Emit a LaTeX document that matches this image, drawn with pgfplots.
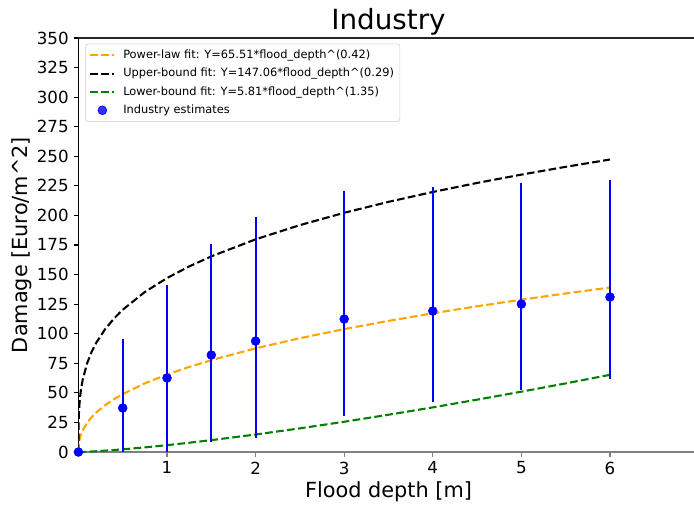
\documentclass[border=0pt]{standalone}
\usepackage{pgfplots}
\pgfplotsset{compat=1.18}
\usepackage{fontspec}
\setmainfont{DejaVu Sans}
\definecolor{mplorange}{HTML}{FFA500}
\definecolor{mplgreen}{HTML}{008000}
\definecolor{mplblue}{HTML}{0000FF}
\pgfplotsset{
  legline/.style={legend image code/.code={\draw[##1] (0pt,0pt) -- (17.3pt,0pt);}},
  legdot/.style={legend image code/.code={\draw[##1] plot coordinates {(9pt,0pt)};}},
}
\begin{document}
\begin{tikzpicture}
\begin{axis}[
  name=ax,
  at={(0pt,0pt)}, anchor=south west,
  scale only axis,
  width=446.5pt, height=298.08pt,
  xmin=0, xmax=7, ymin=0, ymax=350,
  xtick={1,2,3,4,5,6},
  ytick={0,25,...,350},
  axis x line=bottom, axis y line=left,
  axis line style={-},
  x axis line style={draw=gray, line width=1.1pt},
  y axis line style={draw=black, line width=0.8pt},
  tick align=outside,
  major tick length=3.5pt,
  xtick style={draw=gray, line width=0.8pt},
  ytick style={draw=black, line width=0.8pt},
  /pgf/number format/assume math mode=true,
  tick label style={font=\fontsize{12}{14.4}\selectfont},
  every axis title shift=0pt,
  title={Industry},
  title style={font=\fontsize{20}{24}\selectfont, at={(axis description cs:0.5,1)}, anchor=base, yshift=6pt, inner sep=0pt},
  xlabel={Flood depth [m]},
  xlabel style={font=\fontsize{15}{18}\selectfont, at={(axis description cs:0.5,-0.111)}, anchor=base},
  ylabel={Damage [Euro/m\textasciicircum 2]},
  every axis y label/.style={font=\fontsize{15}{18}\selectfont, at={(axis description cs:-0.0909,0.5)}, anchor=center, rotate=90},
  legend style={at={(axis description cs:0,1)}, anchor=north west, xshift=5pt, yshift=-4pt,
    font=\fontsize{8.2}{10}\selectfont, draw=black!20, rounded corners=2pt, fill=white, fill opacity=0.8, text opacity=1,
    row sep=1.5pt, inner sep=2.3pt,
    /tikz/every odd column/.append style={column sep=4pt},
    /tikz/every even column/.append style={column sep=0pt}},
  legend cell align=left,
]
\addplot[mplorange, line width=1.5pt, dash pattern=on 5.55pt off 2.4pt, legline] coordinates {
(0,0) (0.002,4.81) (0.005,7.08) (0.01,9.47) (0.02,12.67) (0.03,15.02) (0.05,18.62) (0.1,24.91) (0.15,29.53) (0.2,33.33) (0.3,39.51) (0.4,44.59) (0.5,48.96) (0.75,58.06) (1,65.51) (1.25,71.94) (1.5,77.67) (2,87.65) (2.5,96.25) (3,103.92) (3.5,110.88) (4,117.26) (4.5,123.21) (5,128.78) (5.5,134.05) (6,139.05)};
\addlegendentry{Power-law fit: Y=65.51*flood\_depth\textasciicircum(0.42)}
\addplot[black, line width=1.5pt, dash pattern=on 5.55pt off 2.4pt, legline] coordinates {
(0,0) (0.002,24.25) (0.005,31.63) (0.01,38.68) (0.02,47.29) (0.03,53.19) (0.05,61.69) (0.1,75.41) (0.15,84.83) (0.2,92.22) (0.3,103.72) (0.4,112.75) (0.5,120.28) (0.75,135.29) (1,147.06) (1.25,156.88) (1.5,165.41) (2,179.80) (2.5,191.83) (3,202.24) (3.5,211.49) (4,219.83) (4.5,227.47) (5,234.52) (5.5,241.10) (6,247.27)};
\addlegendentry{Upper-bound fit: Y=147.06*flood\_depth\textasciicircum(0.29)}
\addplot[mplgreen, line width=1.5pt, dash pattern=on 5.55pt off 2.4pt, legline] coordinates {
(0,0) (0.01,0.01) (0.05,0.10) (0.1,0.26) (0.2,0.66) (0.4,1.69) (0.5,2.28) (0.75,3.94) (1,5.81) (1.25,7.85) (1.5,10.04) (2,14.81) (2.5,20.02) (3,25.60) (3.5,31.53) (4,37.75) (4.5,44.26) (5,51.02) (5.5,58.03) (6,65.27)};
\addlegendentry{Lower-bound fit: Y=5.81*flood\_depth\textasciicircum(1.35)}
\addplot[mplblue, only marks, mark=*, mark size=3.2pt,
  mark options={draw=mplblue, fill=mplblue}, legdot,
  error bars/.cd, y dir=both, y explicit, error mark=none,
  error bar style={mplblue, line width=1.5pt}] coordinates {
(0,0) += (0,0) -= (0,0)
(0.5,37.2) += (0,58.3) -= (0,37.2)
(1,62.6) += (0,78.4) -= (0,62.6)
(1.5,82.0) += (0,93.8) -= (0,73.5)
(2,93.8) += (0,104.9) -= (0,82.0)
(3,112.4) += (0,108.2) -= (0,82.0)
(4,119.2) += (0,104.8) -= (0,76.9)
(5,125.1) += (0,102.3) -= (0,72.7)
(6,131.0) += (0,99.0) -= (0,69.3)
};
\addlegendentry{Industry estimates}
\end{axis}
\draw[black!85, line width=1pt] (ax.north west) -- (ax.north east);
\pgfresetboundingbox
\path (-56.45pt,-38.88pt) rectangle (443.2pt,325.44pt);
\end{tikzpicture}
\end{document}
